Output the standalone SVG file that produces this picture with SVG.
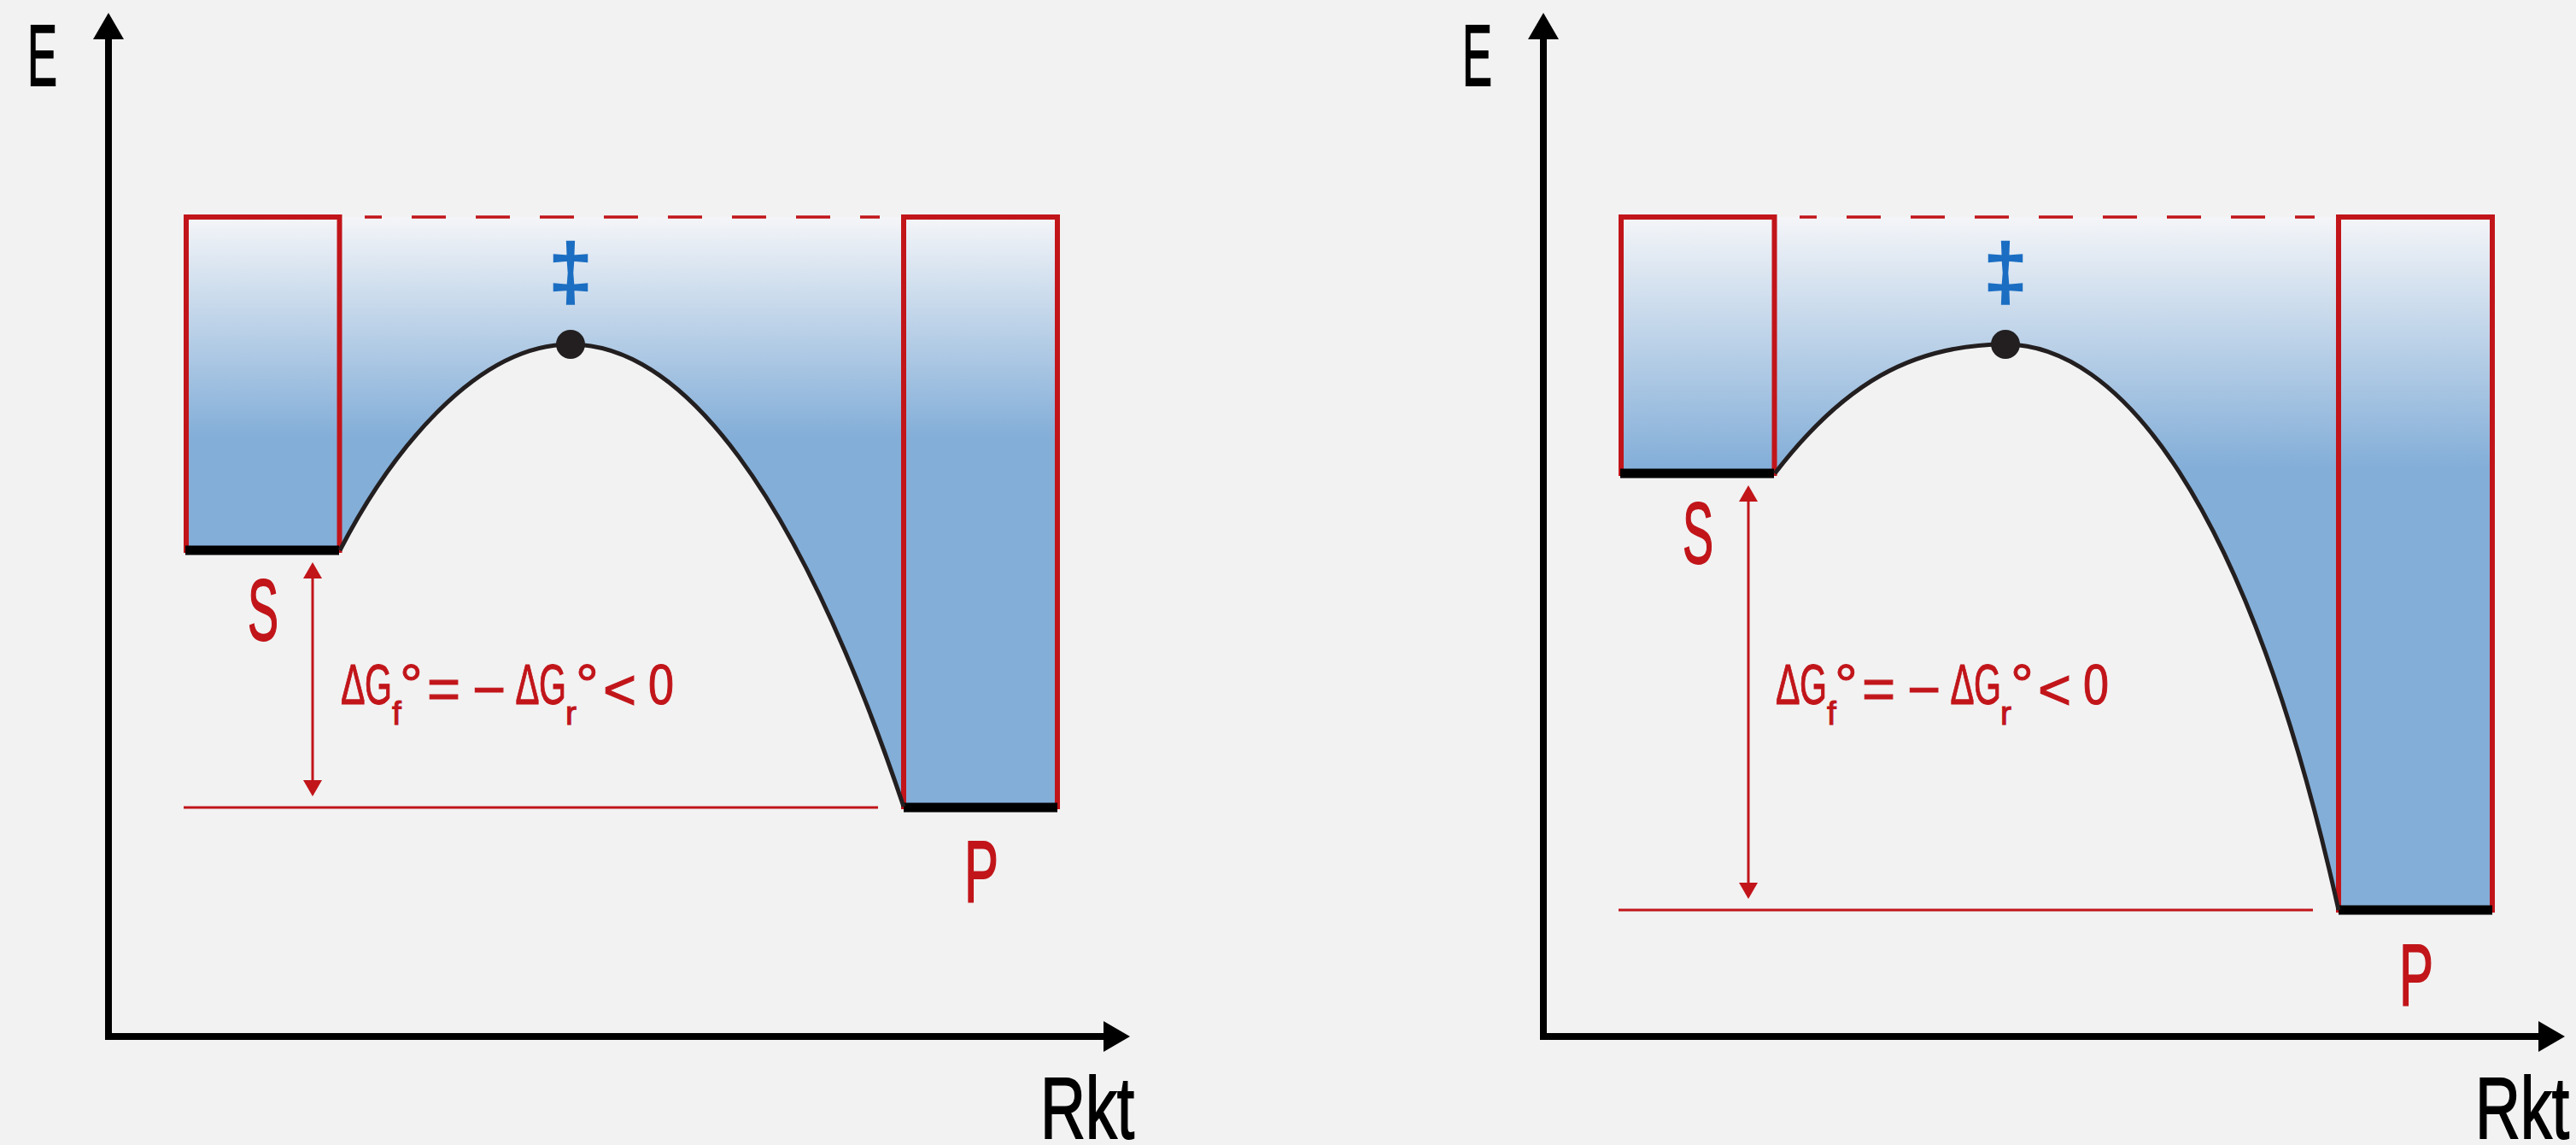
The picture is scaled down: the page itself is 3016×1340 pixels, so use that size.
<svg xmlns="http://www.w3.org/2000/svg" width="3016" height="1340" viewBox="0 0 3016 1340">
<defs>
  <linearGradient id="gradL" gradientUnits="userSpaceOnUse" x1="0" y1="254" x2="0" y2="512">
    <stop offset="0" stop-color="#f4f5f8"/>
    <stop offset="1" stop-color="#83aed8"/>
  </linearGradient>
  <linearGradient id="gradR" gradientUnits="userSpaceOnUse" x1="0" y1="254" x2="0" y2="548">
    <stop offset="0" stop-color="#f4f5f8"/>
    <stop offset="1" stop-color="#83aed8"/>
  </linearGradient>
  <marker id="axisHead" viewBox="0 -18 31 36" refX="0" refY="0" markerWidth="31" markerHeight="36" markerUnits="userSpaceOnUse" orient="auto">
    <path d="M0,-18 L31,0 L0,18 Z" fill="#000"/>
  </marker>
  <marker id="redHead" viewBox="0 -11 19 22" refX="0" refY="0" markerWidth="19" markerHeight="22" markerUnits="userSpaceOnUse" orient="auto-start-reverse">
    <path d="M0,-11 L19,0 L0,11 Z" fill="#c1151a"/>
  </marker>
</defs>
<style>
  .axis{stroke:#000;stroke-width:8;fill:none;marker-end:url(#axisHead)}
  .box{fill:none;stroke:#c1151a;stroke-width:6}
  .base{stroke:#000;stroke-width:11}
  .curve{fill:none;stroke:#231f20;stroke-width:5}
  .dot{fill:#231f20}
  .dash{stroke:#c1151a;stroke-width:3.5;stroke-dasharray:40 35;stroke-dashoffset:20}
  .ref{stroke:#c1151a;stroke-width:3}
  .darrow{stroke:#c1151a;stroke-width:3;marker-start:url(#redHead);marker-end:url(#redHead)}
  .ax{font-family:'Liberation Sans',Arial,sans-serif;font-size:102px;fill:#000;stroke:#000;stroke-width:1.8}
  .lbl{font-family:'Liberation Sans',Arial,sans-serif;font-size:102px;fill:#c1151a;stroke:#c1151a;stroke-width:1.8}
  .fm{font-family:'Liberation Sans',Arial,sans-serif;font-size:67px;fill:#c1151a;stroke:#c1151a;stroke-width:1.1}
  .sub{font-size:39px}
  .ts{font-family:'Liberation Sans',Arial,sans-serif;font-size:90px;fill:#1b6ec2;stroke:#1b6ec2;stroke-width:2.5}
</style>
<rect x="0" y="0" width="3016" height="1340" fill="#f2f2f2"/>

<!-- LEFT PANEL -->
<g id="panel-left">
  <g id="fill-left">
    <path d="M218,254 L218,644 L398,644 C458,528 558,403 668,403 C798,403 933,573 1058,944 L1238,944 L1238,254 Z" fill="url(#gradL)"/>
  </g>
  <g id="axes-left">
    <line class="axis" x1="127" y1="1217" x2="127" y2="46"/>
    <line class="axis" x1="123" y1="1213" x2="1292" y2="1213"/>
    <text class="ax" x="32" y="100" textLength="35" lengthAdjust="spacingAndGlyphs">E</text>
    <text class="ax" x="1218" y="1332" textLength="110" lengthAdjust="spacingAndGlyphs">Rkt</text>
  </g>
  <g id="S-left">
    <rect class="box" x="218" y="254" width="179.5" height="390"/>
    <line class="base" x1="217" y1="644" x2="397" y2="644"/>
    <text class="lbl" x="290" y="749" textLength="36" lengthAdjust="spacingAndGlyphs">S</text>
  </g>
  <g id="P-left">
    <rect class="box" x="1058" y="254" width="180" height="690"/>
    <line class="base" x1="1058" y1="945" x2="1238" y2="945"/>
    <text class="lbl" x="1129" y="1055" textLength="40" lengthAdjust="spacingAndGlyphs">P</text>
  </g>
  <g id="TS-left">
    <line class="dash" x1="427" y1="254" x2="1030" y2="254"/>
    <path class="curve" d="M398,644 C458,528 558,403 668,403 C798,403 933,573 1058,944"/>
    <circle class="dot" cx="668" cy="403" r="17"/>
    <text class="ts" x="668" y="349" text-anchor="middle">‡</text>
  </g>
  <g id="formula-left">
    <text class="fm" y="824"><tspan x="399" textLength="28.5" lengthAdjust="spacingAndGlyphs">Δ</tspan><tspan x="427" textLength="32" lengthAdjust="spacingAndGlyphs">G</tspan><tspan class="sub" x="459" y="848">f</tspan><tspan x="468" y="824">°</tspan><tspan x="500" y="829">=</tspan><tspan x="553" y="829.5">−</tspan><tspan x="603.5" y="824" textLength="28" lengthAdjust="spacingAndGlyphs">Δ</tspan><tspan x="631" textLength="32" lengthAdjust="spacingAndGlyphs">G</tspan><tspan class="sub" x="662" y="848">r</tspan><tspan x="674" y="824">°</tspan><tspan x="706" y="830">&lt;</tspan><tspan x="759" y="824" textLength="30" lengthAdjust="spacingAndGlyphs">0</tspan></text>
  </g>
  <line id="ref-left" class="ref" x1="215" y1="945" x2="1028" y2="945"/>
</g>

<!-- RIGHT PANEL -->
<g id="panel-right">
  <g id="fill-right">
    <path d="M1898,254 L1898,554 L2078,554 C2158,450 2238,403 2348,403 C2478,403 2630,580 2738,1065 L2918,1065 L2918,254 Z" fill="url(#gradR)"/>
  </g>
  <g id="axes-right">
    <line class="axis" x1="1807" y1="1217" x2="1807" y2="46"/>
    <line class="axis" x1="1803" y1="1213" x2="2972" y2="1213"/>
    <text class="ax" x="1712" y="100" textLength="35" lengthAdjust="spacingAndGlyphs">E</text>
    <text class="ax" x="2898" y="1332" textLength="110" lengthAdjust="spacingAndGlyphs">Rkt</text>
  </g>
  <g id="S-right">
    <rect class="box" x="1898" y="254" width="179.5" height="300"/>
    <line class="base" x1="1897" y1="554" x2="2077" y2="554"/>
    <text class="lbl" x="1970" y="659" textLength="36" lengthAdjust="spacingAndGlyphs">S</text>
  </g>
  <g id="P-right">
    <rect class="box" x="2738" y="254" width="180" height="811"/>
    <line class="base" x1="2738" y1="1065" x2="2918" y2="1065"/>
    <text class="lbl" x="2809" y="1176" textLength="40" lengthAdjust="spacingAndGlyphs">P</text>
  </g>
  <g id="TS-right">
    <line class="dash" x1="2107" y1="254" x2="2710" y2="254"/>
    <path class="curve" d="M2078,554 C2158,450 2238,403 2348,403 C2478,403 2630,580 2738,1065"/>
    <circle class="dot" cx="2348" cy="403" r="17"/>
    <text class="ts" x="2348" y="349" text-anchor="middle">‡</text>
  </g>
  <g id="formula-right">
    <text class="fm" y="824"><tspan x="2079" textLength="28.5" lengthAdjust="spacingAndGlyphs">Δ</tspan><tspan x="2107" textLength="32" lengthAdjust="spacingAndGlyphs">G</tspan><tspan class="sub" x="2139" y="848">f</tspan><tspan x="2148" y="824">°</tspan><tspan x="2180" y="829">=</tspan><tspan x="2233" y="829.5">−</tspan><tspan x="2283.5" y="824" textLength="28" lengthAdjust="spacingAndGlyphs">Δ</tspan><tspan x="2311" textLength="32" lengthAdjust="spacingAndGlyphs">G</tspan><tspan class="sub" x="2342" y="848">r</tspan><tspan x="2354" y="824">°</tspan><tspan x="2386" y="830">&lt;</tspan><tspan x="2439" y="824" textLength="30" lengthAdjust="spacingAndGlyphs">0</tspan></text>
  </g>
  <line id="ref-right" class="ref" x1="1895" y1="1065" x2="2708" y2="1065"/>
</g>

<g id="connectors">
  <line class="darrow" x1="366" y1="677" x2="366" y2="913"/>
  <line class="darrow" x1="2047" y1="587" x2="2047" y2="1033"/>
</g>
</svg>
